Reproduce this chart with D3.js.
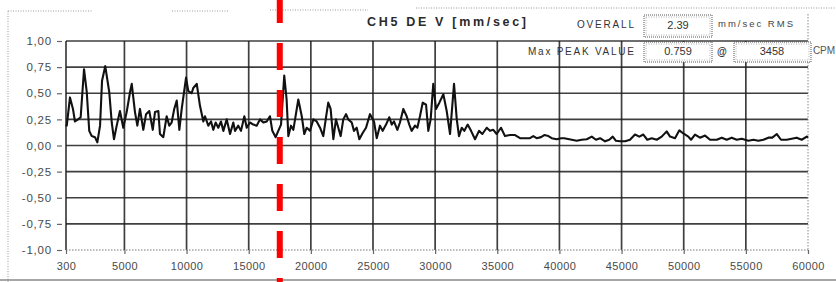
<!DOCTYPE html>
<html>
<head>
<meta charset="utf-8">
<script src="https://cdn.jsdelivr.net/npm/d3@7"></script>
<style>
  html, body { margin: 0; padding: 0; background: #fff; }
  svg { display: block; }
</style>
</head>
<body>
<svg id="chart" width="836" height="282"></svg>
<script>
// ---- data ----
const cpm = [300, 360, 620, 860, 1020, 1270, 1480, 1750, 1970, 2170, 2370, 2630, 2820, 3040, 3200, 3350, 3458, 3780, 3980, 4160, 4380, 4640, 4910, 5180, 5450, 5590, 5850, 6040, 6250, 6520, 6740, 7000, 7280, 7460, 7730, 7860, 8130, 8400, 8610, 8800, 9010, 9210, 9420, 9610, 9960, 10140, 10410, 10540, 10820, 11080, 11350, 11480, 11750, 11970, 12150, 12340, 12550, 12770, 12960, 13230, 13500, 13760, 13900, 14160, 14380, 14650, 14840, 15100, 15370, 15640, 15910, 16180, 16450, 16710, 16900, 17170, 17380, 17600, 17860, 18050, 18190, 18400, 18590, 18730, 18990, 19270, 19470, 19670, 19930, 20200, 20470, 20740, 21000, 21220, 21400, 21590, 21810, 22020, 22210, 22400, 22610, 22830, 23010, 23290, 23470, 23690, 23900, 24170, 24440, 24760, 25080, 25300, 25560, 25780, 26050, 26310, 26510, 26690, 26960, 27170, 27440, 27710, 27920, 28110, 28380, 28570, 28780, 29000, 29270, 29450, 29640, 29850, 30070, 30340, 30660, 30930, 31200, 31520, 31740, 31920, 32140, 32350, 32620, 32890, 33210, 33530, 33800, 34150, 34410, 34680, 34950, 35300, 35620, 36020, 36430, 36830, 37230, 37630, 37900, 38170, 38520, 38780, 39110, 39380, 39780, 40130, 40390, 40590, 40990, 41390, 41790, 42200, 42600, 42940, 43270, 43670, 44010, 44290, 44550, 44880, 45280, 45680, 46080, 46430, 46750, 47070, 47430, 47830, 48230, 48630, 48900, 49300, 49650, 49970, 50370, 50590, 50910, 51310, 51720, 52120, 52660, 53060, 53460, 53860, 54270, 54670, 55200, 55610, 56010, 56410, 56810, 57130, 57490, 57830, 58290, 58690, 59090, 59490, 59900, 60000];
const amplitude = [0.20, 0.19, 0.46, 0.35, 0.23, 0.25, 0.27, 0.73, 0.51, 0.14, 0.09, 0.08, 0.03, 0.19, 0.62, 0.70, 0.759, 0.51, 0.22, 0.06, 0.19, 0.33, 0.17, 0.32, 0.51, 0.59, 0.32, 0.19, 0.35, 0.15, 0.30, 0.33, 0.15, 0.32, 0.33, 0.11, 0.08, 0.28, 0.19, 0.22, 0.35, 0.43, 0.15, 0.35, 0.65, 0.52, 0.50, 0.55, 0.59, 0.38, 0.23, 0.28, 0.19, 0.23, 0.15, 0.22, 0.17, 0.23, 0.14, 0.25, 0.11, 0.22, 0.14, 0.19, 0.14, 0.28, 0.17, 0.22, 0.20, 0.19, 0.25, 0.22, 0.23, 0.28, 0.14, 0.08, 0.14, 0.20, 0.67, 0.44, 0.09, 0.19, 0.15, 0.25, 0.44, 0.28, 0.11, 0.17, 0.14, 0.25, 0.23, 0.17, 0.09, 0.27, 0.41, 0.35, 0.06, 0.25, 0.17, 0.09, 0.25, 0.30, 0.25, 0.22, 0.14, 0.17, 0.06, 0.12, 0.17, 0.30, 0.23, 0.07, 0.19, 0.14, 0.20, 0.27, 0.20, 0.23, 0.15, 0.22, 0.35, 0.28, 0.20, 0.14, 0.19, 0.17, 0.28, 0.41, 0.39, 0.14, 0.25, 0.59, 0.35, 0.41, 0.49, 0.33, 0.11, 0.59, 0.25, 0.09, 0.17, 0.14, 0.20, 0.14, 0.06, 0.14, 0.11, 0.17, 0.14, 0.15, 0.11, 0.17, 0.09, 0.10, 0.10, 0.07, 0.07, 0.07, 0.09, 0.07, 0.08, 0.10, 0.09, 0.07, 0.06, 0.07, 0.07, 0.065, 0.055, 0.045, 0.055, 0.06, 0.085, 0.055, 0.07, 0.04, 0.055, 0.085, 0.045, 0.04, 0.04, 0.055, 0.105, 0.085, 0.105, 0.055, 0.07, 0.055, 0.085, 0.135, 0.085, 0.07, 0.145, 0.115, 0.085, 0.055, 0.105, 0.075, 0.095, 0.055, 0.055, 0.075, 0.055, 0.075, 0.055, 0.065, 0.045, 0.055, 0.045, 0.055, 0.075, 0.075, 0.11, 0.055, 0.055, 0.065, 0.075, 0.055, 0.085, 0.075];
const xTicks = [300, 5000, 10000, 15000, 20000, 25000, 30000, 35000, 40000, 45000, 50000, 55000, 60000];
const yTicks = [-1, -0.75, -0.5, -0.25, 0, 0.25, 0.5, 0.75, 1];
const title = "CH5 DE V [mm/sec]";
const overallLabel = "OVERALL";
const overallValue = "2.39";
const overallUnit = "mm/sec RMS";
const peakLabel = "Max PEAK VALUE";
const peakValue = "0.759";
const peakAt = "@";
const peakCpm = "3458";
const peakUnit = "CPM";
const markerCpm = 17500;

// ---- layout ----
const svg = d3.select("#chart");
const x = d3.scaleLinear().domain([300, 60000]).range([66, 808]);
const y = d3.scaleLinear().domain([-1, 1]).range([250, 41]);
const gridColor = "#1e1e1e";
const labelColor = "#4a4a4a";

// page decorations (dotted frame of the scanned report)
const deco = svg.append("g").attr("stroke", "#9a9a9a").attr("stroke-width", 1).attr("stroke-dasharray", "1,1.5").attr("fill", "none");
deco.append("line").attr("x1", 8).attr("x2", 8).attr("y1", 11).attr("y2", 282);
deco.append("line").attr("x1", 8).attr("x2", 92).attr("y1", 11).attr("y2", 11);
deco.append("line").attr("x1", 172).attr("x2", 228).attr("y1", 11).attr("y2", 11);
deco.append("line").attr("x1", 270).attr("x2", 368).attr("y1", 10).attr("y2", 10);
deco.append("line").attr("x1", 416).attr("x2", 836).attr("y1", 8).attr("y2", 8);
svg.append("line").attr("x1", 0).attr("x2", 836).attr("y1", 280).attr("y2", 280)
  .attr("stroke", "#8a8a8a").attr("stroke-width", 1.5);

// grid
const grid = svg.append("g");
grid.selectAll("line.v").data(xTicks.filter(d => d !== 60000)).join("line")
  .attr("x1", d => x(d)).attr("x2", d => x(d)).attr("y1", y(1)).attr("y2", y(-1))
  .attr("stroke", gridColor).attr("stroke-width", 1.7).attr("opacity", 0.85);
grid.selectAll("line.h").data(yTicks.filter(d => d !== -1)).join("line")
  .attr("x1", x(300)).attr("x2", x(60000)).attr("y1", d => y(d)).attr("y2", d => y(d))
  .attr("stroke", gridColor).attr("stroke-width", 1.7).attr("opacity", 0.85);
// dotted bottom & right edges
grid.append("line").attr("x1", x(300)).attr("x2", x(60000)).attr("y1", y(-1)).attr("y2", y(-1))
  .attr("stroke", "#777").attr("stroke-width", 1).attr("stroke-dasharray", "1.5,1.5");
grid.append("line").attr("x1", x(60000)).attr("x2", x(60000)).attr("y1", 14).attr("y2", y(-1))
  .attr("stroke", "#888").attr("stroke-width", 1).attr("stroke-dasharray", "1.5,1.5");

// axes
const fmtY = d => d3.format(".2f")(d).replace("\u2212", "-").replace(".", ",");
const yAxis = svg.append("g").attr("transform", "translate(62,0)")
  .call(d3.axisLeft(y).tickValues(yTicks).tickSize(5).tickPadding(5).tickFormat(fmtY));
const xAxis = svg.append("g").attr("transform", `translate(0,${y(-1)})`)
  .call(d3.axisBottom(x).tickValues(xTicks).tickSize(4).tickPadding(8).tickFormat(d3.format("d")));
[yAxis, xAxis].forEach(a => {
  a.select(".domain").remove();
  a.selectAll(".tick line").attr("stroke", "#666").attr("stroke-width", 1.2);
  a.selectAll(".tick text").attr("fill", labelColor)
    .style("font-family", "'Liberation Sans', Arial, sans-serif").style("font-size", "11px")
    .style("letter-spacing", "0.4px");
});
yAxis.selectAll(".tick text").style("font-size", "11.5px").style("letter-spacing", "0.8px");

// spectrum line
const line = d3.line().x((d, i) => x(cpm[i])).y(d => y(d));
svg.append("path").datum(amplitude).attr("d", line)
  .attr("fill", "none").attr("stroke", "#111").attr("stroke-width", 2.1)
  .attr("stroke-linejoin", "round");

// header
const font = "'Liberation Sans', Arial, sans-serif";
function txt(s, xp, yp, size, opts = {}) {
  const t = svg.append("text").attr("x", xp).attr("y", yp).text(s)
    .attr("fill", opts.fill || "#333").style("font-family", opts.family || font)
    .style("font-size", size + "px").attr("dominant-baseline", "middle")
    .attr("text-anchor", opts.anchor || "start");
  if (opts.weight) t.style("font-weight", opts.weight);
  if (opts.len) t.attr("textLength", opts.len).attr("lengthAdjust", "spacing");
  return t;
}
txt(title, 367, 23, 12.5, { weight: "bold", len: 159, fill: "#2a2a2a" });
txt(overallLabel, 577, 25, 10, { len: 57 });
txt(overallUnit, 718, 24, 9.5, { len: 75, fill: "#444" });

function box(x0, y0, w, h) {
  svg.append("rect").attr("x", x0).attr("y", y0).attr("width", w).attr("height", h)
    .attr("fill", "#fff").attr("stroke", "#555").attr("stroke-width", 1).attr("stroke-dasharray", "1,1");
  svg.append("rect").attr("x", x0 + 2).attr("y", y0 + 2).attr("width", w - 4).attr("height", h - 4)
    .attr("fill", "none").attr("stroke", "#999").attr("stroke-width", 0.8).attr("stroke-dasharray", "1,1.5");
}
box(644, 15, 68, 22);
box(644, 42, 68, 20);
box(734, 42, 77, 20);
txt(overallValue, 678, 26, 11, { anchor: "middle" });
txt(peakLabel, 528, 52, 10, { len: 106 });
txt(peakValue, 678, 52.5, 11, { anchor: "middle" });
txt(peakAt, 717, 52, 10, { weight: "bold" });
txt(peakCpm, 772, 52.5, 11, { anchor: "middle" });
txt(peakUnit, 813, 51, 10, { fill: "#555", len: 22 });

// red dashed marker
svg.append("line").attr("x1", x(markerCpm)).attr("x2", x(markerCpm)).attr("y1", -4).attr("y2", 282)
  .attr("stroke", "#ff0000").attr("stroke-width", 6).attr("stroke-dasharray", "27,20");
</script>
</body>
</html>
